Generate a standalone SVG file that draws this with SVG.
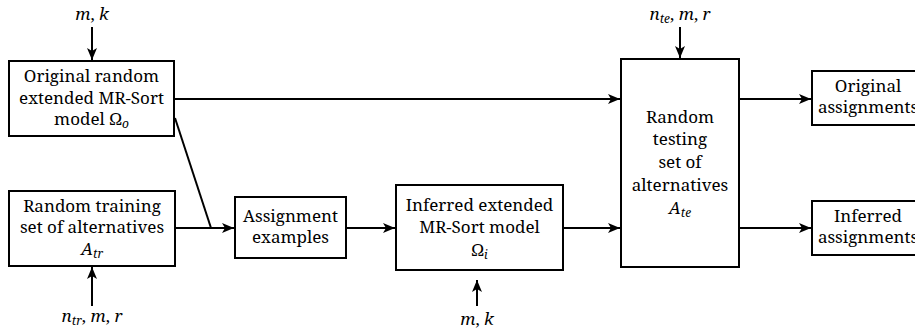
<svg xmlns="http://www.w3.org/2000/svg" width="915" height="329" viewBox="0 0 915 329">
<style>
.box{fill:#fff;stroke:#000;stroke-width:2}
.c{fill:none;stroke:#000;stroke-width:2}
</style>
<defs>
<marker id="ah" viewBox="0 0 12 10" markerWidth="12" markerHeight="10" refX="12" refY="5" orient="auto" markerUnits="userSpaceOnUse">
<path d="M0,0 L12,5 L0,10 L3,5 z" fill="#000"/>
</marker>
</defs>
<rect width="915" height="329" fill="#fff"/>
<g id="connectors">
<line class="c" x1="92" y1="27" x2="92" y2="60" marker-end="url(#ah)"/>
<line class="c" x1="680" y1="27" x2="680" y2="58" marker-end="url(#ah)"/>
<line class="c" x1="175" y1="99" x2="620" y2="99" marker-end="url(#ah)"/>
<line class="c" x1="175" y1="118" x2="211" y2="228"/>
<line class="c" x1="175" y1="228" x2="234" y2="228" marker-end="url(#ah)"/>
<line class="c" x1="346" y1="228" x2="395" y2="228" marker-end="url(#ah)"/>
<line class="c" x1="563" y1="228" x2="620" y2="228" marker-end="url(#ah)"/>
<line class="c" x1="739" y1="99" x2="811" y2="99" marker-end="url(#ah)"/>
<line class="c" x1="739" y1="228" x2="811" y2="228" marker-end="url(#ah)"/>
<line class="c" x1="92" y1="306" x2="92" y2="267" marker-end="url(#ah)"/>
<line class="c" x1="477" y1="306" x2="477" y2="280" marker-end="url(#ah)"/>
</g>
<g id="label-mk-top"><text font-family="Noto Serif" font-size="17" text-anchor="middle" x="92" y="20"><tspan font-style="italic">m</tspan>, <tspan font-style="italic">k</tspan></text></g>
<g id="label-nte"><text font-family="Noto Serif" font-size="17" text-anchor="middle" x="680" y="20"><tspan font-style="italic">n</tspan><tspan font-size="12" font-style="italic" dy="3">te</tspan><tspan dy="-3">, </tspan><tspan font-style="italic">m</tspan>, <tspan font-style="italic">r</tspan></text></g>
<g id="label-ntr"><text font-family="Noto Serif" font-size="17" text-anchor="middle" x="92" y="322"><tspan font-style="italic">n</tspan><tspan font-size="12" font-style="italic" dy="3">tr</tspan><tspan dy="-3">, </tspan><tspan font-style="italic">m</tspan>, <tspan font-style="italic">r</tspan></text></g>
<g id="label-mk-bottom"><text font-family="Noto Serif" font-size="17" text-anchor="middle" x="477" y="325"><tspan font-style="italic">m</tspan>, <tspan font-style="italic">k</tspan></text></g>
<g id="original-model">
<rect class="box" x="9" y="61" width="165" height="75"/>
<text font-family="Noto Serif" font-size="17" text-anchor="middle" x="91.5" y="82">Original random</text>
<text font-family="Noto Serif" font-size="17" text-anchor="middle" x="91.5" y="104">extended MR-Sort</text>
<text font-family="Noto Serif" font-size="17" text-anchor="middle" x="91.5" y="125">model Ω<tspan font-size="12" font-style="italic" dy="3">o</tspan></text>
</g>
<g id="training-set">
<rect class="box" x="9" y="191" width="166" height="75"/>
<text font-family="Noto Serif" font-size="17" text-anchor="middle" x="92" y="212">Random training</text>
<text font-family="Noto Serif" font-size="17" text-anchor="middle" x="92" y="233">set of alternatives</text>
<text font-family="Noto Serif" font-size="17" text-anchor="middle" x="92" y="255"><tspan font-style="italic">A</tspan><tspan font-size="12" font-style="italic" dy="3">tr</tspan></text>
</g>
<g id="assignment-examples">
<rect class="box" x="235" y="197" width="111" height="61"/>
<text font-family="Noto Serif" font-size="17" text-anchor="middle" x="290.5" y="222">Assignment</text>
<text font-family="Noto Serif" font-size="17" text-anchor="middle" x="290.5" y="243">examples</text>
</g>
<g id="inferred-model">
<rect class="box" x="396" y="185" width="167" height="85"/>
<text font-family="Noto Serif" font-size="17" text-anchor="middle" x="479.5" y="211">Inferred extended</text>
<text font-family="Noto Serif" font-size="17" text-anchor="middle" x="479.5" y="233">MR-Sort model</text>
<text font-family="Noto Serif" font-size="17" text-anchor="middle" x="479.5" y="256">Ω<tspan font-size="12" font-style="italic" dy="3">i</tspan></text>
</g>
<g id="testing-set">
<rect class="box" x="621" y="59" width="118" height="208"/>
<text font-family="Noto Serif" font-size="17" text-anchor="middle" x="680" y="123">Random</text>
<text font-family="Noto Serif" font-size="17" text-anchor="middle" x="680" y="145">testing</text>
<text font-family="Noto Serif" font-size="17" text-anchor="middle" x="680" y="168">set of</text>
<text font-family="Noto Serif" font-size="17" text-anchor="middle" x="680" y="191">alternatives</text>
<text font-family="Noto Serif" font-size="17" text-anchor="middle" x="680" y="214"><tspan font-style="italic">A</tspan><tspan font-size="12" font-style="italic" dy="3">te</tspan></text>
</g>
<g id="original-assignments">
<rect class="box" x="812" y="71" width="113" height="54"/>
<text font-family="Noto Serif" font-size="17" text-anchor="middle" x="868" y="92">Original</text>
<text font-family="Noto Serif" font-size="17" text-anchor="middle" x="868" y="113">assignments</text>
</g>
<g id="inferred-assignments">
<rect class="box" x="812" y="201" width="113" height="54"/>
<text font-family="Noto Serif" font-size="17" text-anchor="middle" x="868" y="222">Inferred</text>
<text font-family="Noto Serif" font-size="17" text-anchor="middle" x="868" y="243">assignments</text>
</g>
</svg>
